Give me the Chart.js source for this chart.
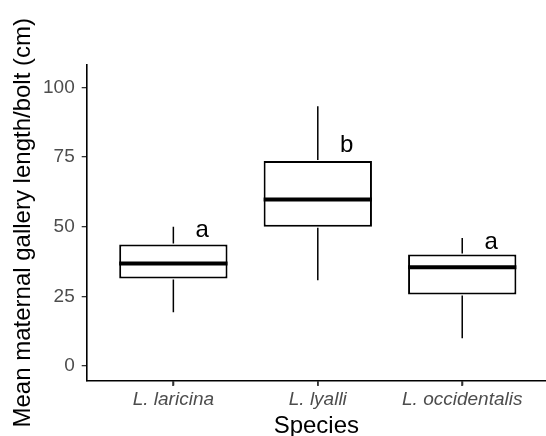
<!DOCTYPE html>
<html>
<head>
<meta charset="utf-8">
<script src="https://cdn.jsdelivr.net/npm/chart.js@4.4.1/dist/chart.umd.min.js"></script>
<style>
  html, body { margin: 0; padding: 0; background: #fff; }
  #wrap { width: 546px; height: 436px; }
</style>
</head>
<body>
<div id="wrap"><canvas id="boxChart" width="546" height="436"></canvas></div>
<script>
var species = ["L. laricina", "L. lyalli", "L. occidentalis"];
var positions = [1, 2, 3];
var whiskerLow = [19.3, 30.8, 10];
var q1 = [31.4, 50, 25.7];
var median = [36.8, 59.8, 35.5];
var q3 = [43.6, 73.6, 40];
var whiskerHigh = [50, 93.2, 46];
var letters = ["a", "b", "a"];
var letterY = [46.3, 76.9, 42];
var yTicks = [0, 25, 50, 75, 100];

var boxes = [];
for (var i = 0; i < positions.length; ++i) {
	boxes.push({x: positions[i], y: [q1[i], q3[i]]});
}

var boxExtras = {
	id: "boxExtras",
	afterDatasetsDraw: function(chart) {
		var ctx = chart.ctx;
		var xs = chart.scales.x;
		var ys = chart.scales.y;
		var meta = chart.getDatasetMeta(0);
		ctx.save();
		ctx.strokeStyle = "#000";
		for (var i = 0; i < positions.length; ++i) {
			var bar = meta.data[i];
			var cx = xs.getPixelForValue(positions[i]);
			// whiskers
			ctx.lineWidth = 1.5;
			ctx.beginPath();
			ctx.moveTo(cx, ys.getPixelForValue(whiskerHigh[i]));
			ctx.lineTo(cx, ys.getPixelForValue(q3[i]) - 1);
			ctx.moveTo(cx, ys.getPixelForValue(q1[i]) + 1);
			ctx.lineTo(cx, ys.getPixelForValue(whiskerLow[i]));
			ctx.stroke();
			// median
			ctx.lineWidth = 4;
			ctx.beginPath();
			ctx.moveTo(bar.x - bar.width / 2, ys.getPixelForValue(median[i]));
			ctx.lineTo(bar.x + bar.width / 2, ys.getPixelForValue(median[i]));
			ctx.stroke();
			// letters
			ctx.fillStyle = "#000";
			ctx.font = "24px Arial, 'Liberation Sans', sans-serif";
			ctx.textAlign = "center";
			ctx.textBaseline = "alphabetic";
			ctx.fillText(letters[i], xs.getPixelForValue(positions[i] + 0.2), ys.getPixelForValue(letterY[i]));
		}
		ctx.restore();
	},
	afterDraw: function(chart) {
		// x tick marks
		var ctx = chart.ctx;
		var xs = chart.scales.x;
		var bottom = Math.round(chart.chartArea.bottom);
		ctx.save();
		ctx.strokeStyle = "#333";
		ctx.lineWidth = 1.6;
		ctx.beginPath();
		for (var i = 0; i < positions.length; ++i) {
			var px = Math.round(xs.getPixelForValue(positions[i]));
			ctx.moveTo(px, bottom);
			ctx.lineTo(px, bottom + 5);
		}
		ctx.stroke();
		ctx.restore();
	}
};

var config = {
	type: "bar",
	data: {
		datasets: [{
			data: boxes,
			backgroundColor: "#fff",
			borderColor: "#000",
			borderWidth: 2,
			borderSkipped: false,
			barPercentage: 0.75,
			categoryPercentage: 1
		}]
	},
	options: {
		responsive: false,
		animation: false,
		layout: {padding: {top: 65, right: 0, left: 11, bottom: 0}},
		plugins: {
			legend: {display: false},
			tooltip: {enabled: false}
		},
		scales: {
			x: {
				type: "linear",
				offset: false,
				min: 0.4,
				max: 3.58,
				afterBuildTicks: function(axis) {
					axis.ticks = positions.map(function(v) { return {value: v}; });
				},
				ticks: {
					callback: function(v) { return species[v - 1]; },
					color: "#4d4d4d",
					font: {family: "Arial, 'Liberation Sans', sans-serif", size: 19, style: "italic", lineHeight: 1},
					padding: 5,
					maxRotation: 0,
					autoSkip: false
				},
				grid: {offset: false, drawOnChartArea: false, drawTicks: true, tickLength: 5, color: "#333", lineWidth: 1.3},
				border: {display: true, color: "#000", width: 1.6},
				title: {
					display: true,
					text: "Species",
					color: "#000",
					font: {family: "Arial, 'Liberation Sans', sans-serif", size: 24, lineHeight: 1},
					padding: {top: -0.5, bottom: -2}
				}
			},
			y: {
				min: -5.15,
				max: 108,
				afterBuildTicks: function(axis) {
					axis.ticks = yTicks.map(function(v) { return {value: v}; });
				},
				ticks: {
					color: "#4d4d4d",
					font: {family: "Arial, 'Liberation Sans', sans-serif", size: 19},
					padding: 7
				},
				grid: {drawOnChartArea: false, drawTicks: true, tickLength: 5, color: "#333", lineWidth: 1.3},
				border: {display: true, color: "#000", width: 1.6},
				title: {
					display: true,
					text: "Mean maternal gallery length/bolt (cm)",
					color: "#000",
					font: {family: "Arial, 'Liberation Sans', sans-serif", size: 24, lineHeight: 1},
					padding: {top: 0, bottom: 1}
				}
			}
		}
	},
	plugins: [boxExtras]
};

new Chart(document.getElementById("boxChart"), config);
</script>
</body>
</html>
